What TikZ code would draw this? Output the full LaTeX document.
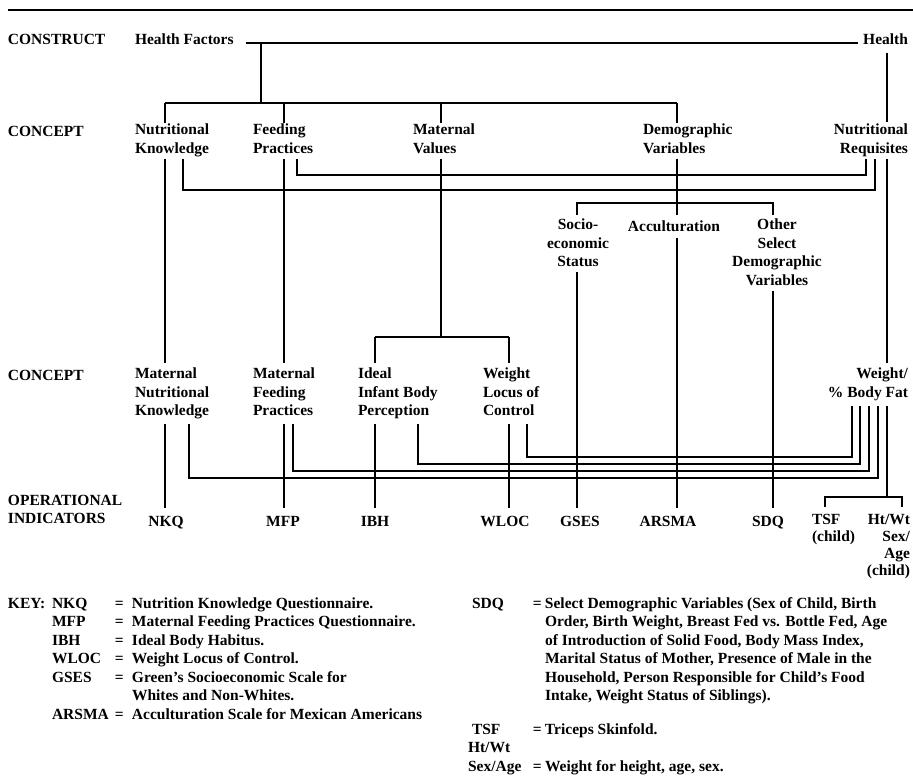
\documentclass[tikz,border=0pt]{standalone}
\usepackage{fontspec}
\setmainfont{Liberation Serif}
\tikzset{
	lbl/.style={inner sep=0pt, outer sep=0pt, align=left,
		font=\fontsize{15.5}{18.5}\selectfont\bfseries,
		execute at begin node=\strut, execute at end node=\strut},
	tight/.style={font=\fontsize{15.5}{17}\selectfont\bfseries},
	keytab/.style={inner sep=0pt, outer sep=0pt, anchor=base west,
		font=\fontsize{15.5}{18.5}\selectfont\bfseries},
}

\begin{document}
\begin{tikzpicture}[x=1pt,y=-1pt,line width=1.7pt]
	\useasboundingbox (0,0) rectangle (913,777);
	\draw[line width=2.6pt] (8,10) -- (913,10);
%
	% columns and levels
	\foreach \n/\x in {HF/261,NK/165,NKr/183,FP/284,FPr/297,MV/441,IB/375,WL/509,
		SE/577,DV/677,OS/773,NR/887,NRa/875,NRb/866,MNr/189,MFr/293,IBr/418,WLr/527,
		Wa/852,Wb/860,Wc/869,Wd/878,TS/825,HT/902}
		\coordinate (c\n) at (\x,0);
	\foreach \n/\y in {Bar/103,La/190,Lb/175,MV/337,DV/203,Wa/457,Wb/464,Wc/471,Wd/478,Br/497}
		\coordinate (y\n) at (0,\y);
%
	% construct
	\node[lbl,anchor=north west] (construct) at (8,32) {CONSTRUCT};
	\node[lbl,anchor=north west] (hf) at (135,32) {Health Factors};
	\node[lbl,anchor=north east] (health) at (908,32) {Health};
%
	% concept, first level
	\node[lbl,anchor=north west] (concepta) at (8,124) {CONCEPT};
	\node[lbl,anchor=north west] (nk) at (135,124) {Nutritional\\Knowledge};
	\node[lbl,anchor=north west] (fp) at (253,124) {Feeding\\Practices};
	\node[lbl,anchor=north west] (mv) at (413,124) {Maternal\\Values};
	\node[lbl,anchor=north west] (dv) at (643,124) {Demographic\\Variables};
	\node[lbl,anchor=north east,align=right] (nr) at (908,124) {Nutritional\\Requisites};
%
	\node[lbl,anchor=north,align=center] (ses) at (578,219) {Socio-\\economic\\Status};
	\node[lbl,anchor=north] (acc) at (674,219) {Acculturation};
	\node[lbl,anchor=north,align=center] (osd) at (777,219) {Other\\Select\\Demographic\\Variables};
%
	% concept, second level
	\node[lbl,anchor=north west] (conceptb) at (8,368) {CONCEPT};
	\node[lbl,anchor=north west] (mnk) at (135,368) {Maternal\\Nutritional\\Knowledge};
	\node[lbl,anchor=north west] (mfp) at (253,368) {Maternal\\Feeding\\Practices};
	\node[lbl,anchor=north west] (iibp) at (358,368) {Ideal\\Infant Body\\Perception};
	\node[lbl,anchor=north west] (wloc) at (483,368) {Weight\\Locus of\\Control};
	\node[lbl,anchor=north east,align=right] (wbf) at (908,368) {Weight/\\\% Body Fat};
%
	% operational indicators
	\node[lbl,anchor=north west] (opind) at (8,495) {OPERATIONAL\\INDICATORS};
	\node[lbl,anchor=north] (nkq) at (166,514) {NKQ};
	\node[lbl,anchor=north] (mfpq) at (283,514) {MFP};
	\node[lbl,anchor=north] (ibh) at (375,514) {IBH};
	\node[lbl,anchor=north] (wlocq) at (505,514) {WLOC};
	\node[lbl,anchor=north] (gses) at (580,514) {GSES};
	\node[lbl,anchor=north] (arsma) at (668,514) {ARSMA};
	\node[lbl,anchor=north] (sdq) at (768,514) {SDQ};
	\node[lbl,tight,anchor=north west] (tsf) at (812,514) {TSF\\(child)};
	\node[lbl,tight,anchor=north east,align=right] (htwt) at (910,514) {Ht/Wt\\Sex/\\Age\\(child)};
%
	% construct links
	\draw[shorten <=12pt, shorten >=5pt] (hf.mid east) -- (health.mid west);
	\draw (cHF |- hf.mid east) -- (cHF |- yBar);
	\draw (cNK |- yBar) -- (cDV |- yBar);
	\foreach \c/\n in {NK/nk,FP/fp,MV/mv,DV/dv}
		\draw[shorten >=1pt] (c\c |- yBar) -- (c\c |- \n.north);
	\draw[shorten <=2pt, shorten >=2pt] (cNR |- health.south) -- (cNR |- nr.north);
%
	% first level to second level
	\foreach \c/\a/\b in {NK/nk/mnk,FP/fp/mfp,NR/nr/wbf}
		\draw[shorten >=5pt] (c\c |- \a.south) -- (c\c |- \b.north);
	\draw (cNKr |- nk.south) -- (cNKr |- yLa) -- (cNRa |- yLa) -- (cNRa |- nr.south);
	\draw (cFPr |- fp.south) -- (cFPr |- yLb) -- (cNRb |- yLb) -- (cNRb |- nr.south);
	\draw (cMV |- mv.south) -- (cMV |- yMV);
	\draw (cIB |- yMV) -- (cWL |- yMV);
	\draw[shorten >=5pt] (cIB |- yMV) -- (cIB |- iibp.north);
	\draw[shorten >=5pt] (cWL |- yMV) -- (cWL |- wloc.north);
	\draw[shorten >=4pt] (cDV |- dv.south) -- (cDV |- acc.north);
	\draw[shorten <=4pt, shorten >=4pt] (cSE |- ses.north) -- (cSE |- yDV) -- (cOS |- yDV) -- (cOS |- osd.north);
%
	% down to the indicators
	\foreach \c/\a/\b in {SE/ses/gses,DV/acc/arsma,OS/osd/sdq}
		\draw[shorten >=6pt] (c\c |- \a.south) -- (c\c |- \b.north);
	\foreach \c/\a/\b in {NK/mnk/nkq,FP/mfp/mfpq,IB/iibp/ibh,WL/wloc/wlocq}
		\draw[shorten <=3pt, shorten >=6pt] (c\c |- \a.south) -- (c\c |- \b.north);
	\foreach \c/\n/\w in {MNr/mnk/d,MFr/mfp/c,IBr/iibp/b,WLr/wloc/a}
		\draw[shorten <=3pt, shorten >=3pt] (c\c |- \n.south) -- (c\c |- yW\w) -- (cW\w |- yW\w) -- (cW\w |- wbf.south);
	\draw[shorten <=3pt] (cNR |- wbf.south) -- (cNR |- yBr);
	\draw[shorten <=7pt, shorten >=7pt] (cTS |- tsf.north) -- (cTS |- yBr) -- (cHT |- yBr) -- (cHT |- htwt.north);
%
	% key
	\node[keytab] (keyhd) at (8,608) {KEY:};
	\node[keytab] (keyl) at (52,608) {\begin{tabular}[t]{@{}p{63pt}@{}p{17pt}@{}l@{}}
		NKQ & = & Nutrition Knowledge Questionnaire.\\
		MFP & = & Maternal Feeding Practices Questionnaire.\\
		IBH & = & Ideal Body Habitus.\\
		WLOC & = & Weight Locus of Control.\\
		GSES & = & Green's Socioeconomic Scale for\\
		& & Whites and Non-Whites.\\
		ARSMA & = & Acculturation Scale for Mexican Americans
	\end{tabular}};
	\node[keytab] (keyr) at (468,608) {\begin{tabular}[t]{@{}p{65pt}@{}p{12pt}@{}l@{}}
		\hspace{4pt}SDQ & = & Select Demographic Variables (Sex of Child, Birth\\
		& & Order, Birth Weight, Breast Fed vs. Bottle Fed, Age\\
		& & of Introduction of Solid Food, Body Mass Index,\\
		& & Marital Status of Mother, Presence of Male in the\\
		& & Household, Person Responsible for Child's Food\\
		& & Intake, Weight Status of Siblings).\\[15pt]
		\hspace{4pt}TSF & = & Triceps Skinfold.\\
		Ht/Wt & & \\
		Sex/Age & = & Weight for height, age, sex.
	\end{tabular}};
\end{tikzpicture}
\end{document}
